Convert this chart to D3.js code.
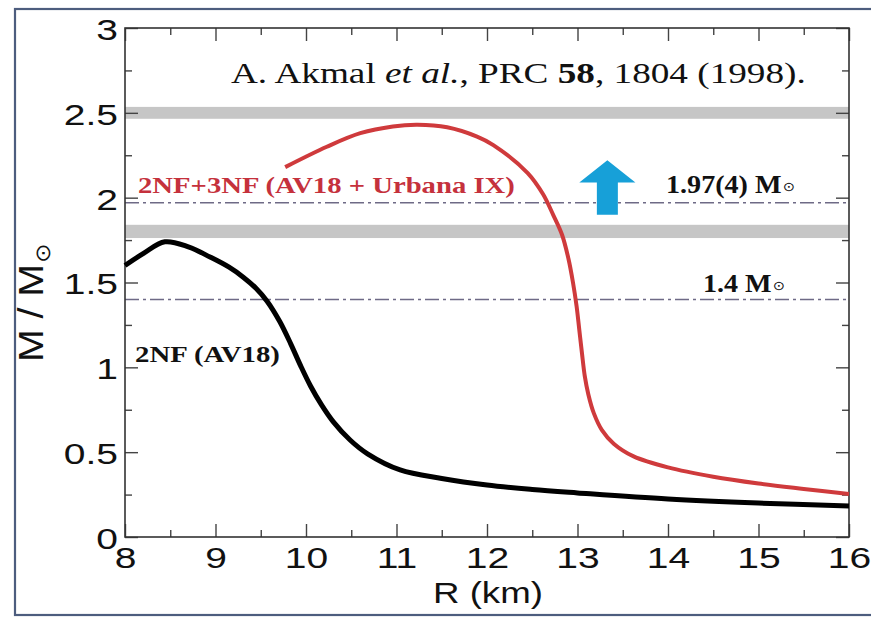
<!DOCTYPE html>
<html>
<head>
<meta charset="utf-8">
<script src="https://cdn.jsdelivr.net/npm/d3@7"></script>
<style>
  body { margin: 0; background: #fff; }
  svg { display: block; }
</style>
</head>
<body>
<div id="app"></div>
<script>
// mass-radius curves
const R_2NF = [8.0, 8.2, 8.44, 8.7, 8.94, 9.15, 9.31, 9.45, 9.57, 9.71, 9.83, 9.94, 10.05, 10.17, 10.30, 10.49, 10.68, 11.04, 11.5, 12.0, 12.5, 13.0, 14.0, 15.0, 16.0];
const M_2NF = [1.60, 1.67, 1.74, 1.71, 1.65, 1.59, 1.53, 1.465, 1.39, 1.27, 1.14, 1.01, 0.89, 0.78, 0.68, 0.57, 0.49, 0.395, 0.345, 0.306, 0.28, 0.26, 0.224, 0.20, 0.183];

const R_3NF = [9.77, 10.23, 10.60, 10.96, 11.23, 11.56, 11.89, 12.07, 12.45, 12.62, 12.73, 12.83, 12.90, 12.95, 12.99, 13.02, 13.05, 13.08, 13.12, 13.18, 13.27, 13.40, 13.62, 14.0, 14.5, 15.0, 15.5, 16.0];
const M_3NF = [2.18, 2.30, 2.38, 2.42, 2.43, 2.415, 2.36, 2.31, 2.145, 2.02, 1.90, 1.78, 1.64, 1.50, 1.36, 1.22, 1.08, 0.95, 0.84, 0.73, 0.63, 0.55, 0.475, 0.41, 0.355, 0.315, 0.283, 0.253];

const X_TICKS = [8, 9, 10, 11, 12, 13, 14, 15, 16];
const X_MINOR = [8.5, 9.5, 10.5, 11.5, 12.5, 13.5, 14.5, 15.5];
const Y_TICKS = [0, 0.5, 1, 1.5, 2, 2.5, 3];
const Y_MINOR = [0.25, 0.75, 1.25, 1.75, 2.25, 2.75];

const BANDS = [[2.465, 2.535], [1.762, 1.840]];
const REF_MASSES = [1.97, 1.4];
const REF_LABELS = ['1.97(4) M', '1.4 M'];

// arrow: R position, bottom / head base / tip in M, half widths in km
const ARROW_R = 13.33;
const ARROW_M = [1.90, 2.09, 2.22];
const ARROW_HALF = [0.116, 0.31];

const W = 871, H = 621;
const plot = {left: 125, right: 849, top: 28, bottom: 537};
const SANS = "'Liberation Sans', Arial, sans-serif";
const SERIF = "'Liberation Serif', 'Times New Roman', 'DejaVu Serif', serif";
const STRETCH = 1.3; // the source figure is stretched sideways

const svg = d3.select('#app').append('svg')
  .attr('width', W).attr('height', H);

const x = d3.scaleLinear().domain([8, 16]).range([plot.left, plot.right]);
const y = d3.scaleLinear().domain([0, 3]).range([plot.bottom, plot.top]);

// squeeze/stretch a text so it spans a given width, keeping its left edge
function fitWidth(sel, x0, width) {
  const w = sel.node().getBBox().width;
  const s = width / w;
  sel.attr('transform', `translate(${x0},0) scale(${s},1) translate(${-x0},0)`);
}

// outer frame of the slide
svg.append('rect')
  .attr('x', 15).attr('y', 9).attr('width', W + 20).attr('height', 606)
  .attr('fill', 'none').attr('stroke', '#4d5d7e').attr('stroke-width', 2.2);

// grey bands
svg.selectAll('rect.band').data(BANDS).enter()
  .append('rect').classed('band', true)
  .attr('x', plot.left).attr('width', plot.right - plot.left)
  .attr('y', d => y(d[1])).attr('height', d => y(d[0]) - y(d[1]))
  .attr('fill', '#c6c6c6');

// dash-dot reference lines
svg.selectAll('line.ref').data(REF_MASSES).enter()
  .append('line').classed('ref', true)
  .attr('x1', plot.left).attr('x2', plot.right)
  .attr('y1', d => y(d)).attr('y2', d => y(d))
  .attr('stroke', '#6e6a86').attr('stroke-width', 1.5)
  .attr('stroke-dasharray', '14,4,3,4');

// axes with inward ticks on all four sides
function styleAxis(g) {
  g.select('.domain').remove();
  g.selectAll('.tick line').attr('stroke', '#444').attr('stroke-width', 1.4);
  g.selectAll('.tick text')
    .style('font-family', SANS)
    .attr('font-size', 30).attr('fill', '#111');
}

svg.append('g').attr('transform', `translate(0,${plot.bottom})`)
  .call(d3.axisBottom(x).tickValues(X_TICKS).tickSize(-13).tickFormat(d => d))
  .call(styleAxis)
  .call(g => g.selectAll('.tick text').attr('y', 31).attr('dy', 0)
    .attr('transform', `scale(${STRETCH},1)`));
svg.append('g').attr('transform', `translate(0,${plot.bottom})`)
  .call(d3.axisBottom(x).tickValues(X_MINOR).tickSize(-7).tickFormat(''))
  .call(styleAxis);
svg.append('g').attr('transform', `translate(0,${plot.top})`)
  .call(d3.axisTop(x).tickValues(X_TICKS).tickSize(-13).tickFormat(''))
  .call(styleAxis);
svg.append('g').attr('transform', `translate(0,${plot.top})`)
  .call(d3.axisTop(x).tickValues(X_MINOR).tickSize(-7).tickFormat(''))
  .call(styleAxis);

svg.append('g').attr('transform', `translate(${plot.left},0)`)
  .call(d3.axisLeft(y).tickValues(Y_TICKS).tickSize(-13).tickFormat(d => d))
  .call(styleAxis)
  .call(g => g.selectAll('.tick text').attr('x', -7 / STRETCH).attr('dy', '0.38em')
    .attr('transform', `scale(${STRETCH},1)`));
svg.append('g').attr('transform', `translate(${plot.left},0)`)
  .call(d3.axisLeft(y).tickValues(Y_MINOR).tickSize(-7).tickFormat(''))
  .call(styleAxis);
svg.append('g').attr('transform', `translate(${plot.right},0)`)
  .call(d3.axisRight(y).tickValues(Y_TICKS).tickSize(-13).tickFormat(''))
  .call(styleAxis);
svg.append('g').attr('transform', `translate(${plot.right},0)`)
  .call(d3.axisRight(y).tickValues(Y_MINOR).tickSize(-7).tickFormat(''))
  .call(styleAxis);

// plot box
svg.append('rect')
  .attr('x', plot.left).attr('y', plot.top)
  .attr('width', plot.right - plot.left).attr('height', plot.bottom - plot.top)
  .attr('fill', 'none').attr('stroke', '#333').attr('stroke-width', 1.6);

// curves
const line = d3.line()
  .x(d => x(d[0])).y(d => y(d[1]))
  .curve(d3.curveCatmullRom.alpha(0.5));

svg.append('path')
  .datum(d3.zip(R_3NF, M_3NF))
  .attr('d', line).attr('fill', 'none')
  .attr('stroke', '#cf3a3c').attr('stroke-width', 4);

svg.append('path')
  .datum(d3.zip(R_2NF, M_2NF))
  .attr('d', line).attr('fill', 'none')
  .attr('stroke', '#000').attr('stroke-width', 5)
  .attr('stroke-linejoin', 'round');

// blue arrow
const ax = ARROW_R, sw = ARROW_HALF[0], hw = ARROW_HALF[1];
const arrowPts = [
  [ax - sw, ARROW_M[0]], [ax - sw, ARROW_M[1]], [ax - hw, ARROW_M[1]],
  [ax, ARROW_M[2]],
  [ax + hw, ARROW_M[1]], [ax + sw, ARROW_M[1]], [ax + sw, ARROW_M[0]]
];
svg.append('polygon')
  .attr('points', arrowPts.map(p => [x(p[0]), y(p[1])].join(',')).join(' '))
  .attr('fill', '#17a0d8');

// axis titles
const xlab = svg.append('text')
  .attr('x', 433).attr('y', 603)
  .style('font-family', SANS).attr('font-size', 29).attr('fill', '#111')
  .text('R (km)');
fitWidth(xlab, 433, 110);

const ylab = svg.append('text')
  .attr('transform', 'translate(43,303) rotate(-90) scale(1.12,1)')
  .attr('text-anchor', 'middle')
  .style('font-family', SANS).attr('font-size', 35).attr('fill', '#111');
ylab.append('tspan').text('M / M');
ylab.append('tspan').attr('font-size', 21).attr('dx', 1).attr('dy', 7).text('\u2299');

// reference text
const ref = svg.append('text')
  .attr('x', 231).attr('y', 83)
  .style('font-family', SERIF).attr('font-size', 30).attr('fill', '#111');
ref.append('tspan').text('A. Akmal ');
ref.append('tspan').attr('font-style', 'italic').text('et al.');
ref.append('tspan').text(', PRC ');
ref.append('tspan').attr('font-weight', 'bold').text('58');
ref.append('tspan').text(', 1804 (1998).');
fitWidth(ref, 231, 575);

// curve labels
const lab3 = svg.append('text')
  .attr('x', 138).attr('y', 193)
  .style('font-family', SERIF).attr('font-weight', 'bold').attr('font-size', 24)
  .attr('fill', '#c5313c')
  .text('2NF+3NF (AV18 + Urbana IX)');
fitWidth(lab3, 138, 377);

const lab2 = svg.append('text')
  .attr('x', 135).attr('y', 362)
  .style('font-family', SERIF).attr('font-weight', 'bold').attr('font-size', 23)
  .attr('fill', '#111')
  .text('2NF (AV18)');
fitWidth(lab2, 135, 145);

// reference mass labels
const refPos = [[666, 193, 129], [703, 292, 82]];
REF_LABELS.forEach((t, i) => {
  const lab = svg.append('text')
    .attr('x', refPos[i][0]).attr('y', refPos[i][1])
    .style('font-family', SERIF).attr('font-weight', 'bold').attr('font-size', 25)
    .attr('fill', '#111');
  lab.append('tspan').text(t);
  lab.append('tspan').style('font-family', "'DejaVu Sans', sans-serif").attr('font-weight', 'normal')
    .attr('font-size', 13).attr('dx', 1).attr('dy', -2).text('\u2299');
  fitWidth(lab, refPos[i][0], refPos[i][2]);
});
</script>
</body>
</html>
